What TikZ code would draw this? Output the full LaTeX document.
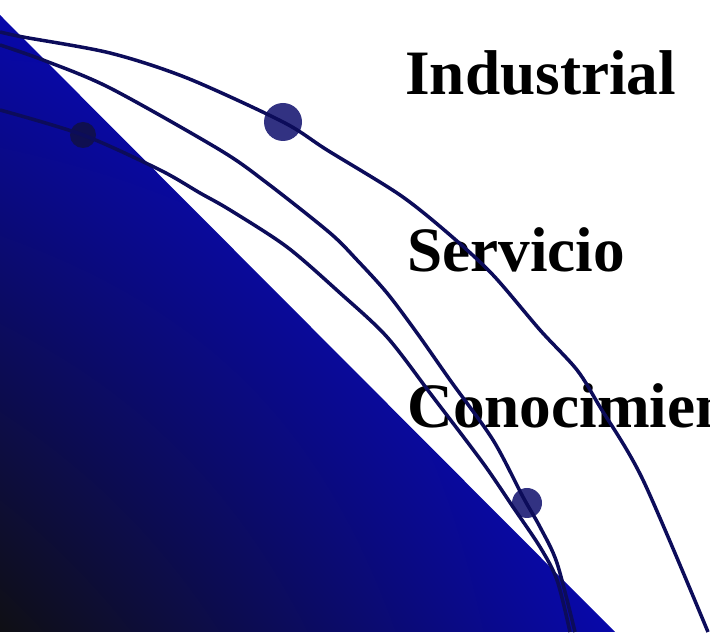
\documentclass[tikz,border=0pt]{standalone}
\usepackage{fontspec}
\setmainfont{Liberation Serif}
\usepackage{xcolor}
\usepackage{tikz}
\usetikzlibrary{shadings}

\definecolor{fondoosc}{RGB}{15,15,20}
\definecolor{fondoazul}{RGB}{8,8,170}
\definecolor{fondoclaro}{RGB}{8,8,255}
\definecolor{azulcurva}{RGB}{12,12,90}
\definecolor{azulpunto}{RGB}{50,50,130}
\definecolor{azulpuntoosc}{RGB}{15,15,80}

\begin{document}
\begin{tikzpicture}[x=0.02cm, y=0.02cm,
  curva/.style={line width=2pt, draw=azulcurva},
  etiqueta/.style={anchor=base west, inner sep=0pt,
    font=\fontsize{36}{40}\selectfont\bfseries}]
\useasboundingbox (0,0) rectangle (710,635);
\clip (0,0) rectangle (710,635);
% fondo triangular
\shade[lower left=fondoosc, upper left=fondoazul, lower right=fondoazul,
  upper right=fondoclaro] (0,620) -- (615,3) -- (0,3) -- cycle;%
% puntos
\fill[azulpunto] (283,513) circle (19);%
\fill[azulpuntoosc] (83,500) circle (13);%
\fill[azulpunto] (527,132) circle (15);%
% etiquetas
\node[etiqueta] (industrial) at (405,540) {Industrial};
\node[etiqueta] (servicio) at (407,363) {Servicio};
\node[etiqueta] (conocimiento) at (407,207) {Conocimiento};
% curvas
\draw[curva] plot[smooth] coordinates {(0,603) (23,598) (110,582) (187,557)
  (283,513) (327,485) (400,440) (450,400) (493,360) (540,305) (577,265)
  (600,228) (643,155) (708,3)};%
\draw[curva] plot[smooth] coordinates {(0,590) (43,575) (110,547) (220,485)
  (267,452) (330,402) (357,375) (387,342) (417,302) (450,255) (493,195)
  (523,138) (540,108) (557,72) (575,3)};%
\draw[curva] plot[smooth] coordinates {(0,525) (83,500) (160,465) (200,442)
  (230,425) (287,388) (340,342) (387,298) (433,238) (483,172) (513,128)
  (540,88) (557,55) (570,3)};%
\end{tikzpicture}
\end{document}
